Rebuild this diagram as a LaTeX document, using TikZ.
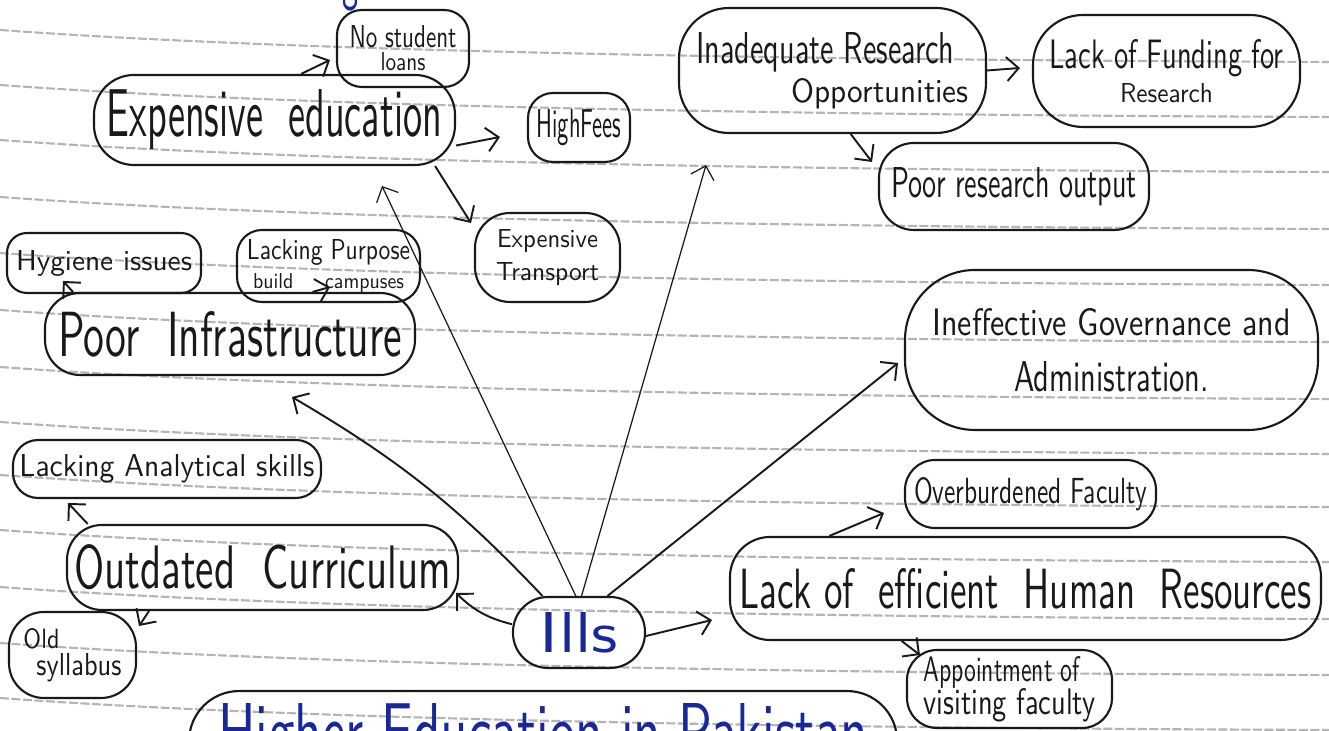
\documentclass[tikz,border=0pt]{standalone}
\usetikzlibrary{arrows.meta}
\newcommand\hw[3]{\resizebox{#1mm}{#2mm}{#3}}
\newcommand\stk[4]{{\renewcommand\arraystretch{0}\begin{tabular}{@{}#1@{}}#2\\[#4mm]#3\end{tabular}}}
\definecolor{ink}{RGB}{25,25,25}
\definecolor{pen}{RGB}{25,40,150}
\definecolor{paperline}{RGB}{180,180,180}
\begin{document}
\begin{tikzpicture}[x=0.1mm,y=-0.1mm,font=\sffamily,
  bub/.style={draw=ink,line width=0.6pt,rounded corners=#1,inner sep=0pt,text=ink},
  bub/.default=3mm,
  arr/.style={draw=ink,line width=0.55pt,-{Straight Barb[length=1.2mm,width=2.4mm]}},
  thinarr/.style={draw=ink,line width=0.35pt,-{Straight Barb[length=1.2mm,width=2.4mm]}},
  paper/.style={draw=paperline,line width=0.6pt,dash pattern=on 0.9mm off 0.25mm}]
\useasboundingbox (0,0) rectangle (1329,731);
\fill[white] (0,0) rectangle (1329,731);
\clip (0,0) rectangle (1329,731);
% ruled paper
\foreach \yy in {30,85,140,197,253,310,367,422,475,530,587,643,698}
  \draw[paper] (0,\yy) .. controls (300,{\yy+22}) and (800,{\yy+30}) .. (1329,{\yy+32});

% fragment of the title above
\node[text=pen,anchor=base,inner sep=0pt] (titlefrag) at (350,-2) {\hw{1.6}{3.0}{g}};

% left side
\node[bub=4mm,minimum width=36.1mm,minimum height=9mm] (expedu) at (274.5,120) {\hw{33.5}{4.7}{Expensive\ \ education}};
\node[bub=2.5mm,minimum width=13.2mm,minimum height=7.7mm] (noloans) at (403,48.5) {\stk{c}{\hw{10.7}{2.2}{No student}}{\hw{4.5}{1.8}{loans}}{0.5}};
\node[bub=2.5mm,minimum width=10.2mm,minimum height=6.9mm] (highfees) at (579,127.5) {\hw{8.5}{2.8}{HighFees}};
\node[bub=3.5mm,minimum width=14.5mm,minimum height=8.9mm] (transport) at (547.5,257.5) {\stk{c}{\hw{10.1}{1.8}{Expensive}}{\hw{10.3}{1.8}{Transport}}{1.5}};
\node[bub=2mm,minimum width=19.4mm,minimum height=6mm] (hygiene) at (104,263) {\hw{17.6}{2.0}{Hygiene issues}};
\node[bub=2.5mm,minimum width=18.3mm,minimum height=7.2mm] (campus) at (328.5,266) {\stk{c}{\hw{16.3}{2.0}{Lacking Purpose}}{\hw{15.1}{1.5}{build\hspace{1.6em}campuses}}{1.4}};
\node[bub=3.5mm,minimum width=37mm,minimum height=8.2mm] (infra) at (230,334) {\hw{34.4}{4.5}{Poor\ \ Infrastructure}};
\node[bub=2.5mm,minimum width=30.8mm,minimum height=5.8mm] (analytic) at (167,469) {\hw{29.5}{2.2}{Lacking Analytical skills}};
\node[bub=3.5mm,minimum width=39.1mm,minimum height=8.5mm] (outcurr) at (262.5,567.5) {\hw{37.7}{4.4}{Outdated\ \ Curriculum}};
\node[bub=3.5mm,minimum width=12.7mm,minimum height=8.6mm] (oldsyl) at (72.5,655) {\stk{l}{\hw{3.6}{2.0}{Old}}{\hspace*{1.3mm}\hw{8.5}{2.2}{syllabus}}{0.5}};
\node[bub=3.5mm,minimum width=13.2mm,minimum height=7.1mm,text=pen] (ills) at (579,632.5) {\hw{7.8}{4.0}{Ills}};

% right side
\node[bub=5mm,minimum width=30.7mm,minimum height=12.5mm] (inadequate) at (832.5,70.5) {\stk{l}{\hw{25.8}{3.1}{Inadequate Research}}{\hspace*{9.5mm}\hw{17.7}{2.4}{Opportunities}}{1.5}};
\node[bub=5mm,minimum width=26.7mm,minimum height=11.2mm] (funding) at (1166.5,71) {\stk{c}{\hw{23.4}{2.9}{Lack of Funding for}}{\hw{9.3}{1.9}{Research}}{1.5}};
\node[bub=3.5mm,minimum width=27mm,minimum height=8.7mm] (poorout) at (1014,186.5) {\hw{24.6}{3.0}{Poor research output}};
\node[bub=7mm,minimum width=41.3mm,minimum height=16mm] (govern) at (1111.5,350) {\stk{c}{\hw{35.8}{2.7}{Ineffective Governance and}}{\hw{19.5}{3.0}{Administration.}}{2.6}};
\node[bub=3mm,minimum width=25.1mm,minimum height=6.8mm] (overb) at (1030.5,494) {\hw{23.3}{2.6}{Overburdened Faculty}};
\node[bub=4mm,minimum width=59.1mm,minimum height=10.3mm] (lackhr) at (1025.5,588.5) {\hw{57.2}{4.0}{Lack of\ \ efficient\ \ Human\ \ Resources}};
\node[bub=3mm,minimum width=20.5mm,minimum height=7.8mm] (appoint) at (1009.5,689) {\stk{l}{\hw{15.6}{2.5}{Appointment of}}{\hw{17.2}{2.6}{visiting faculty}}{0.1}};

% bottom title (cut off)
\node[bub=5mm,anchor=north west,inner xsep=2.9mm,inner ysep=1.2mm,text=pen] (higher) at (188,690) {\hw{65}{5.5}{Higher Education in Pakistan}};

% arrow tips
\coordinate (t1) at (330,60);
\coordinate (t2) at (500,137);
\coordinate (t3) at (471,223);
\coordinate (t4) at (382,186);
\coordinate (t5) at (706,165);
\coordinate (t6) at (292,397);
\coordinate (t7) at (898,363);
\coordinate (t8) at (456,593);
\coordinate (t9) at (712,620);
\coordinate (t10) at (63,281);
\coordinate (t11) at (330,287);
\coordinate (t12) at (68,503);
\coordinate (t13) at (139,626);
\coordinate (t14) at (1020,68);
\coordinate (t15) at (872,162);
\coordinate (t16) at (884,513);
\coordinate (t17) at (920,655);

% connectors
\draw[arr] (expedu.60) -- (t1);
\draw[arr] (expedu.-8.5) -- (t2);
\draw[arr] (expedu.-16) -- (t3);
\draw[thinarr] (ills.95) -- (t4);
\draw[thinarr] (ills.86) -- (t5);
\draw[arr] (ills.135) to[bend right=8] (t6);
\draw[arr] (ills.52) -- (t7);
\draw[arr] (ills.173) to[bend left=15] (t8);
\draw[arr] (ills.-3) -- (t9);
\draw[arr] (infra.165) -- (t10);
\draw[arr] (infra.27) -- (t11);
\draw[arr] (outcurr.166) -- (t12);
\draw[arr] (outcurr.-159) -- (t13);
\draw[arr] (inadequate.east) -- (t14);
\draw[arr] (inadequate.-74) -- (t15);
\draw[arr] (lackhr.165) -- (t16);
\draw[arr] (lackhr.-157) -- (t17);
\end{tikzpicture}
\end{document}
